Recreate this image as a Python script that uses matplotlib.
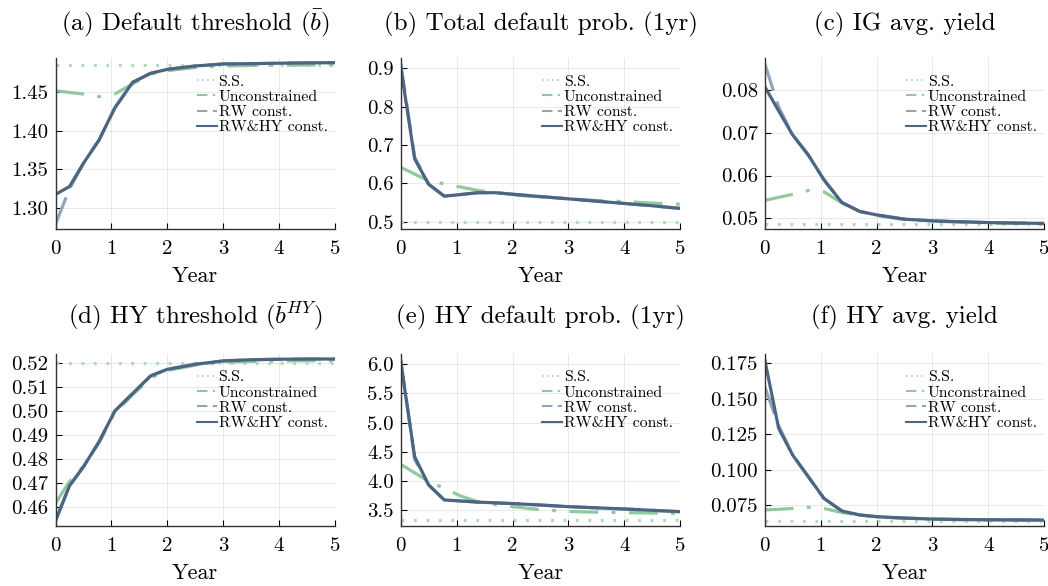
import matplotlib
matplotlib.use("Agg")
import matplotlib.pyplot as plt
from matplotlib.ticker import FixedLocator, FixedFormatter

plt.rcParams["font.family"] = ["cmr10", "DejaVu Serif"]
plt.rcParams["mathtext.fontset"] = "cm"
plt.rcParams["axes.unicode_minus"] = False
plt.rcParams["axes.formatter.use_mathtext"] = True

# Time grid (years)
years = [0, 0.25, 0.5, 0.78, 1.06, 1.38, 1.7, 2.0, 2.5, 3.0, 3.5, 4.0, 4.5, 5.0]

# (a) Default threshold
a_ss = 1.484
a_unc = [1.4513, 1.449, 1.447, 1.4436, 1.447, 1.460, 1.4726, 1.477, 1.481, 1.483, 1.4837, 1.484, 1.4843, 1.4845]
a_rw = [1.2796, 1.325, 1.358, 1.388, 1.429, 1.462, 1.4736, 1.4787, 1.483, 1.4856, 1.486, 1.4866, 1.487, 1.4873]
a_rwhy = [1.318, 1.328, 1.358, 1.388, 1.429, 1.462, 1.4736, 1.4787, 1.483, 1.4856, 1.486, 1.4866, 1.487, 1.4873]

# (b) Total default probability (1yr)
b_ss = 0.5
b_unc = [0.642, 0.6245, 0.607, 0.599, 0.591, 0.582, 0.576, 0.570, 0.565, 0.560, 0.556, 0.553, 0.549, 0.546]
b_rw = [0.913, 0.668, 0.598, 0.567, 0.571, 0.576, 0.576, 0.572, 0.566, 0.560, 0.554, 0.548, 0.542, 0.535]
b_rwhy = [0.904, 0.664, 0.598, 0.567, 0.571, 0.576, 0.576, 0.572, 0.566, 0.560, 0.554, 0.548, 0.542, 0.535]

# (c) IG average yield
c_ss = 0.0486
c_unc = [0.0542, 0.0549, 0.0556, 0.0565, 0.0562, 0.0536, 0.0516, 0.0507, 0.0497, 0.0493, 0.0491, 0.0489, 0.0488, 0.0487]
c_rw = [0.0862, 0.0760, 0.0695, 0.0648, 0.0590, 0.0537, 0.0516, 0.0508, 0.0498, 0.0494, 0.0492, 0.0490, 0.0489, 0.0488]
c_rwhy = [0.0808, 0.0751, 0.0695, 0.0648, 0.0590, 0.0537, 0.0516, 0.0508, 0.0498, 0.0494, 0.0492, 0.0490, 0.0489, 0.0488]

# (d) HY threshold
d_ss = 0.520
d_unc = [0.4614, 0.4705, 0.4770, 0.4868, 0.4993, 0.5068, 0.5138, 0.5170, 0.5192, 0.5204, 0.5208, 0.5210, 0.5211, 0.5211]
d_rw = [0.4541, 0.4687, 0.4767, 0.4872, 0.5000, 0.5074, 0.5147, 0.5175, 0.5196, 0.5210, 0.5215, 0.5217, 0.5218, 0.5218]
d_rwhy = [0.4541, 0.4687, 0.4767, 0.4872, 0.5000, 0.5074, 0.5147, 0.5175, 0.5196, 0.5210, 0.5215, 0.5217, 0.5218, 0.5218]

# (e) HY default probability (1yr)
e_ss = 3.335
e_unc = [4.284, 4.137, 3.990, 3.870, 3.745, 3.640, 3.590, 3.557, 3.505, 3.475, 3.462, 3.455, 3.447, 3.440]
e_rw = [6.086, 4.370, 3.929, 3.672, 3.655, 3.635, 3.622, 3.610, 3.585, 3.557, 3.537, 3.517, 3.494, 3.471]
e_rwhy = [6.046, 4.415, 3.929, 3.672, 3.655, 3.635, 3.622, 3.610, 3.585, 3.557, 3.537, 3.517, 3.494, 3.471]

# (f) HY average yield
f_ss = 0.0639
f_unc = [0.0715, 0.0720, 0.0726, 0.0734, 0.0726, 0.0697, 0.0678, 0.0666, 0.0656, 0.0649, 0.0646, 0.0644, 0.0643, 0.0642]
f_rw = [0.1585, 0.1310, 0.1103, 0.0950, 0.0797, 0.0708, 0.0680, 0.0668, 0.0658, 0.0651, 0.0648, 0.0646, 0.0645, 0.0644]
f_rwhy = [0.1778, 0.1291, 0.1103, 0.0950, 0.0797, 0.0708, 0.0680, 0.0668, 0.0658, 0.0651, 0.0648, 0.0646, 0.0645, 0.0644]

titles = [
    r"(a) Default threshold ($\bar{b}$)",
    "(b) Total default prob. (1yr)",
    "(c) IG avg. yield",
    r"(d) HY threshold ($\bar{b}^{HY}$)",
    "(e) HY default prob. (1yr)",
    "(f) HY avg. yield",
]
yticks = [
    [1.30, 1.35, 1.40, 1.45],
    [0.5, 0.6, 0.7, 0.8, 0.9],
    [0.05, 0.06, 0.07, 0.08],
    [0.46, 0.47, 0.48, 0.49, 0.50, 0.51, 0.52],
    [3.5, 4.0, 4.5, 5.0, 5.5, 6.0],
    [0.075, 0.100, 0.125, 0.150, 0.175],
]
ydecimals = [2, 1, 2, 2, 1, 3]
ylims = [
    (1.2731, 1.4929),
    (0.4807, 0.926),
    (0.04743, 0.0874),
    (0.4519, 0.5239),
    (3.225, 6.177),
    (0.0602, 0.1816),
]
xticks = [0, 1, 2, 3, 4, 5]
labels = ["S.S.", "Unconstrained", "RW const.", "RW&HY const."]

panels = [
    (a_ss, a_unc, a_rw, a_rwhy),
    (b_ss, b_unc, b_rw, b_rwhy),
    (c_ss, c_unc, c_rw, c_rwhy),
    (d_ss, d_unc, d_rw, d_rwhy),
    (e_ss, e_unc, e_rw, e_rwhy),
    (f_ss, f_unc, f_rw, f_rwhy),
]

col_ss = "#b3dabd"
col_unc = "#92c99c"
col_rw = "#8ea5bc"
col_rwhy = "#4b6582"

# line styles (in units of line width)
sty_ss = (0, (0.9, 3.0))
sty_unc = (0, (9.0, 4.2, 1.2, 4.2))
sty_rw = (0, (9.0, 3.5))
# shorter patterns for the legend samples
leg_sty = [(0, (0.8, 1.6)), (0, (5.0, 2.6, 1.0, 2.6)), (0, (5.0, 2.6)), "-"]

W, H = 1048, 586
fig = plt.figure(figsize=(W / 100, H / 100), dpi=100)

lefts = [55.5, 400.7, 764.7]
width = 279.5
rows = [(58.3, 229.3), (354.0, 526.0)]
title_pads = [20, 22]

for i, (ss, unc, rw, rwhy) in enumerate(panels):
    r, c = divmod(i, 3)
    top, bot = rows[r]
    ax = fig.add_axes([lefts[c] / W, 1 - bot / H, width / W, (bot - top) / H])

    lw = 2.3
    ax.plot([years[0], years[-1]], [ss, ss], color=col_ss, lw=lw,
            linestyle=sty_ss, dash_capstyle="butt", label=labels[0])
    ax.plot(years, unc, color=col_unc, lw=lw, linestyle=sty_unc, label=labels[1])
    ax.plot(years, rw, color=col_rw, lw=lw, linestyle=sty_rw, label=labels[2])
    ax.plot(years, rwhy, color=col_rwhy, lw=lw, label=labels[3])

    ax.set_xlim(0, 5)
    ax.set_ylim(*ylims[i])
    ax.xaxis.set_major_locator(FixedLocator(xticks))
    ax.xaxis.set_major_formatter(FixedFormatter([str(x) for x in xticks]))
    ax.yaxis.set_major_locator(FixedLocator(yticks[i]))
    ax.yaxis.set_major_formatter(FixedFormatter([f"{v:.{ydecimals[i]}f}" for v in yticks[i]]))
    ax.tick_params(direction="in", length=4, width=0.8, labelsize=15, pad=5, colors="black")
    ax.tick_params(axis="x", pad=8)
    ax.grid(True, color="black", alpha=0.09, lw=0.7)
    for s in ("top", "right"):
        ax.spines[s].set_visible(False)
    for s in ("left", "bottom"):
        ax.spines[s].set_color("#333333")
        ax.spines[s].set_linewidth(1.0)

    ax.set_title(titles[i], fontsize=18, pad=title_pads[r])
    ax.set_xlabel("Year", fontsize=16, labelpad=6)

    leg = ax.legend(loc="upper left", bbox_to_anchor=(0.505, 0.905),
                    frameon=False, fontsize=11.3, handlelength=1.3, handletextpad=0.1,
                    labelspacing=0.08, borderaxespad=0.0, borderpad=0.0)
    for line, st in zip(leg.get_lines(), leg_sty):
        line.set_linewidth(1.5)
        line.set_linestyle(st)

fig.savefig("out.png", dpi=100)
